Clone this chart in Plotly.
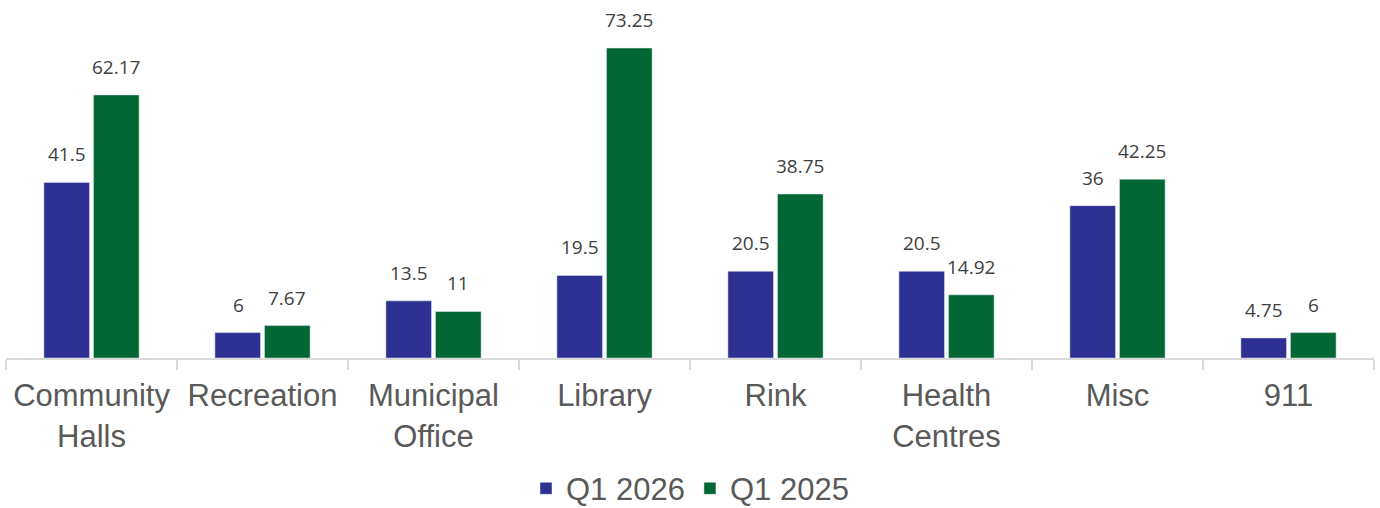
import plotly.graph_objects as go

categories = ["Community<br>Halls", "Recreation", "Municipal<br>Office", "Library",
              "Rink", "Health<br>Centres", "Misc", "911"]
q1_2026 = [41.5, 6, 13.5, 19.5, 20.5, 20.5, 36, 4.75]
q1_2025 = [62.17, 7.67, 11, 73.25, 38.75, 14.92, 42.25, 6]

series = [("Q1 2026", q1_2026, "#2E3192", -24.5),
          ("Q1 2025", q1_2025, "#036635", 24.5)]

label_font = dict(family="Open Sans", size=19, color="#404040")

fig = go.Figure()
annotations = []
for name, vals, color, shift in series:
    fig.add_trace(go.Bar(name=name, x=categories, y=vals, marker_color=color))
    # value labels sit a bit higher above the bars than plotly's outside text
    for i, v in enumerate(vals):
        annotations.append(dict(
            x=i, y=v, text=f"{v:g}", showarrow=False,
            xshift=shift, yshift=13, yanchor="bottom", font=label_font,
        ))

fig.update_layout(
    width=1380, height=508,
    margin=dict(l=6, r=6, t=0, b=150, autoexpand=False),
    barmode="group", bargap=0.42, bargroupgap=0.08,
    plot_bgcolor="white", paper_bgcolor="white",
    font=dict(family="Liberation Sans, Arial", size=31, color="#595959"),
    showlegend=True,
    legend=dict(orientation="h", x=0.5, xanchor="center",
                y=-0.365, yanchor="middle",
                font=dict(size=31, color="#595959")),
    annotations=annotations,
)
fig.update_xaxes(
    type="category", tickangle=0,
    showline=True, linecolor="#d9d9d9", linewidth=2,
    ticks="outside", tickson="boundaries", ticklen=10,
    tickcolor="#d9d9d9", tickwidth=2, automargin=False,
    ticklabelstandoff=9,
    tickfont=dict(size=31, color="#595959"),
)
fig.update_yaxes(range=[0, 84.6], visible=False)

fig.write_html("out.html", config={"displayModeBar": False},
               post_script="document.body.style.margin='0';")
